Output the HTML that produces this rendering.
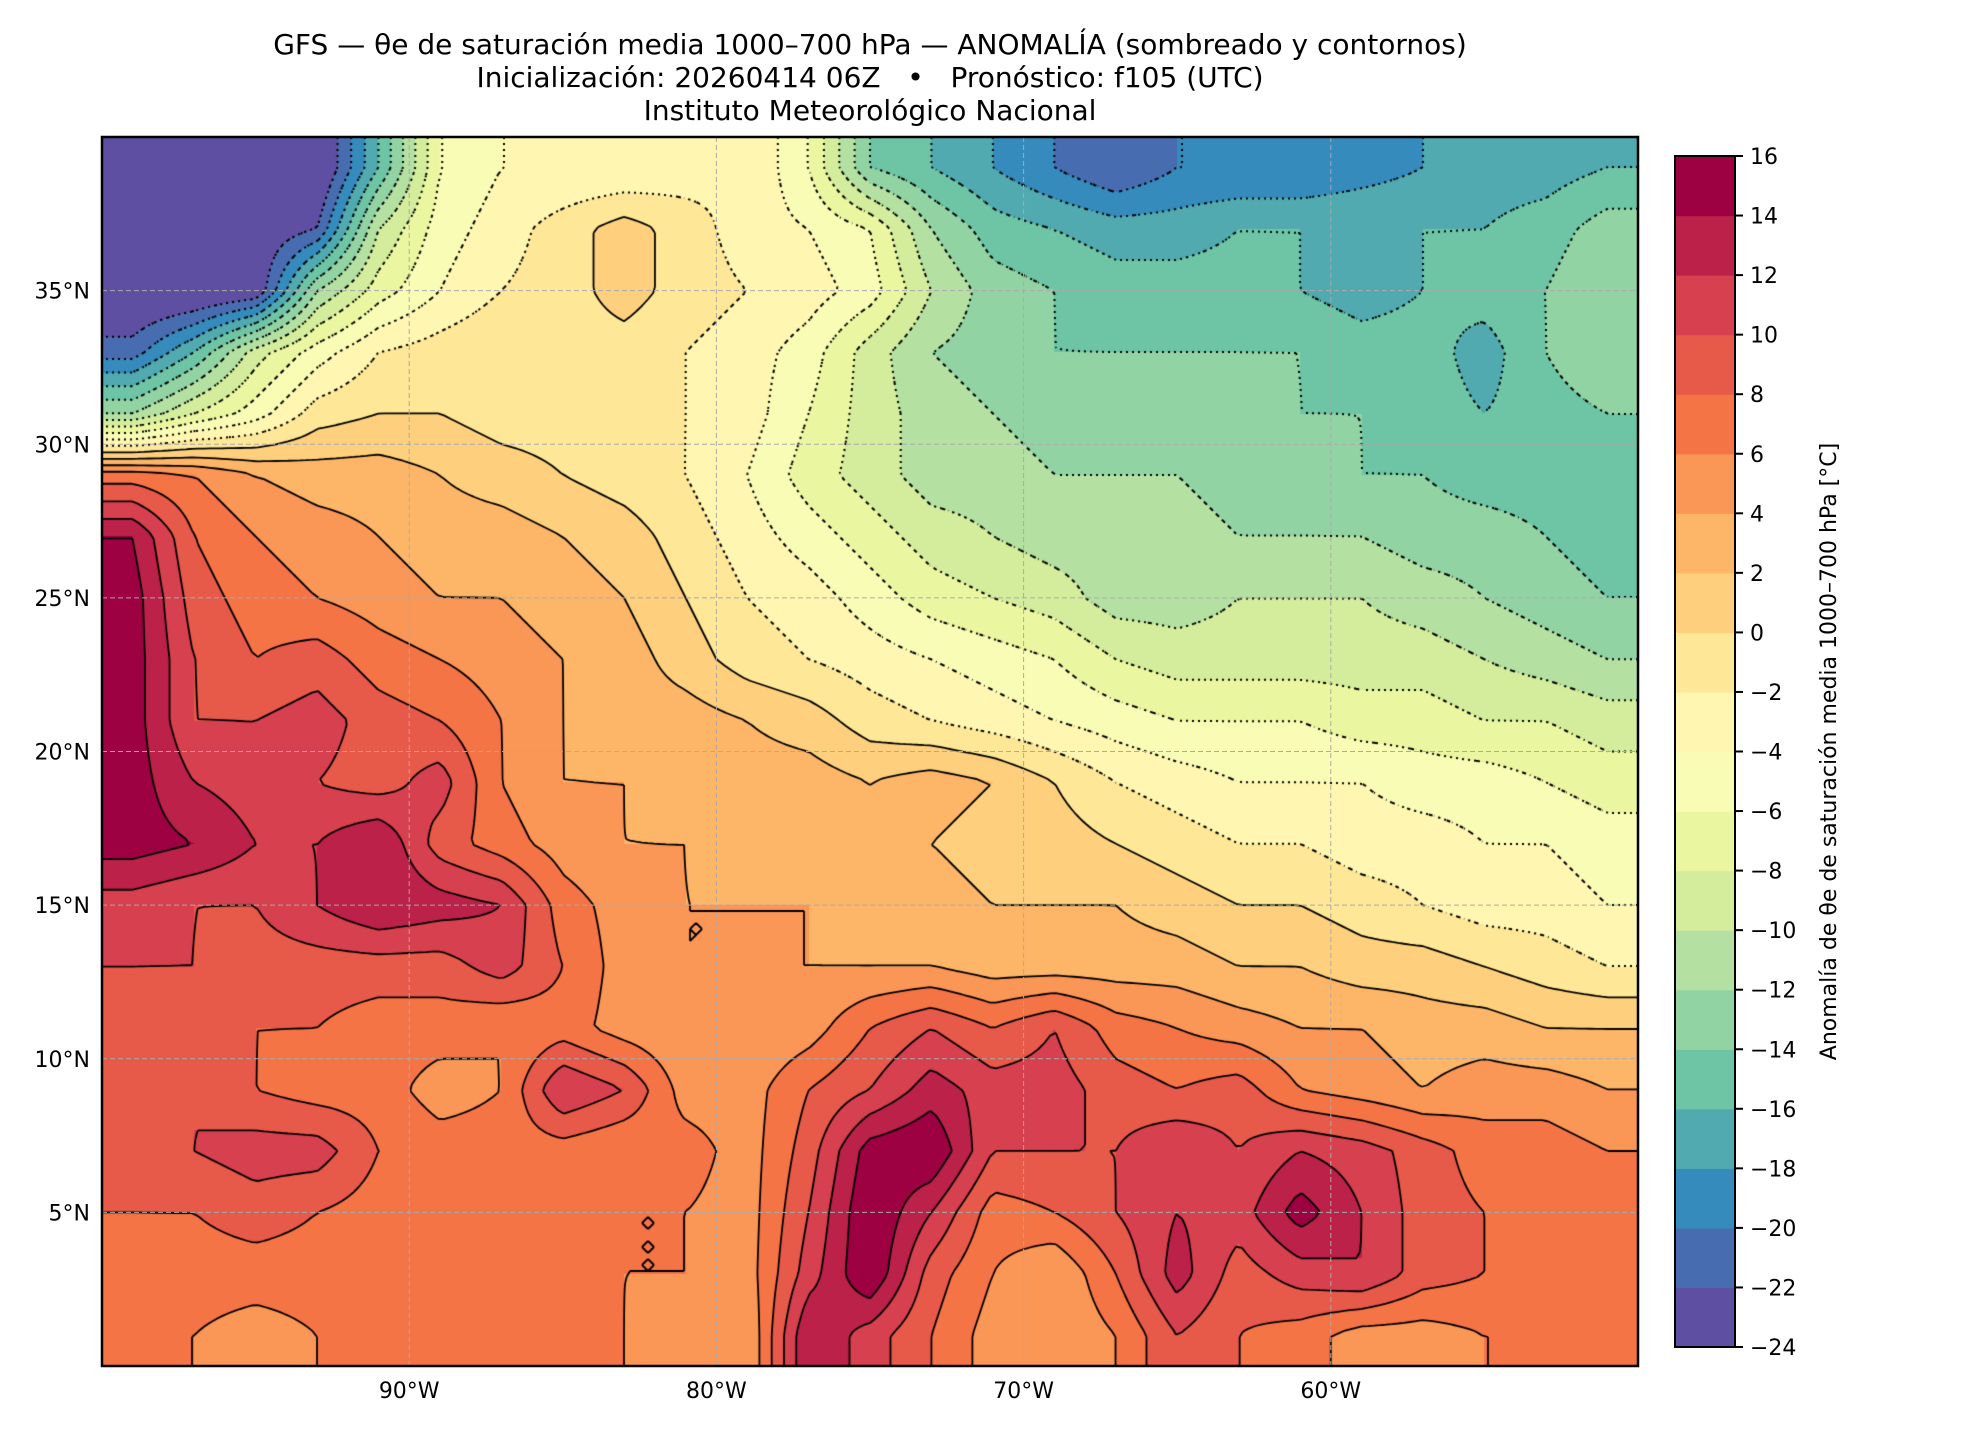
<!DOCTYPE html>
<html><head><meta charset="utf-8"><style>
body{margin:0;background:#fff;width:1980px;height:1440px;position:relative;overflow:hidden;font-family:"DejaVu Sans","Liberation Sans",sans-serif}
#map{position:absolute;left:102px;top:137px}
svg{position:absolute;left:0;top:0;font-family:"DejaVu Sans","Liberation Sans",sans-serif}
</style></head><body>
<canvas id="map" width="1536" height="1229"></canvas>
<svg id="ov" width="1980" height="1440"></svg>
<script>
// grid centers: lon -99..-51 step 2, lat 39..1 step 2
const lons=[-99,-97,-95,-93,-91,-89,-87,-85,-83,-81,-79,-77,-75,-73,-71,-69,-67,-65,-63,-61,-59,-57,-55,-53,-51];
const lats=[39,37,35,33,31,29,27,25,23,21,19,17,15,13,11,9,7,5,3,1];
const anomaly=[
[-25,-25,-25,-25,-16,-6,-4,-4,-4,-3,-2,-6,-14,-16,-18,-20,-22,-20,-20,-20,-19,-18,-17,-17,-16],
[-25,-25,-24,-22,-10,-5,-3,-1,1,-1,-3,-4,-6,-12,-15,-16,-17,-17,-16,-16,-16,-16,-16,-15,-13],
[-25,-25,-24,-12,-7,-4,-2,-1,1,-1,-2,-3,-5,-10,-13,-14,-15,-15,-15,-16,-17,-16,-15,-14,-12],
[-21,-16,-9,-5,-2,-1,0,-1,-1,-2,-3,-5,-9,-12,-13,-14,-14,-14,-14,-14,-15,-15,-17,-14,-12],
[-12,-8,-5,-1,0,0,-1,-1,-1,-2,-3,-6,-9,-11,-12,-13,-13,-13,-13,-14,-14,-15,-16,-15,-14],
[7,6,4,3,3,2,1,0,-1,-2,-4,-7,-9,-11,-11,-12,-12,-12,-13,-13,-14,-14,-15,-15,-15],
[14,8,6,5,4,3,3,2,1,-1,-3,-5,-7,-9,-10,-11,-11,-11,-12,-12,-12,-13,-13,-14,-15],
[15,9,7,6,5,4,4,3,2,0,-2,-3,-5,-7,-8,-9,-11,-11,-10,-10,-10,-11,-12,-13,-14],
[15,10,8,9,7,6,5,4,3,1,-1,-2,-3,-4,-5,-6,-8,-9,-9,-9,-9,-9,-10,-11,-12],
[15,10,10,11,9,8,6,4,3,3,2,1,-1,-2,-3,-4,-5,-6,-6,-6,-7,-7,-8,-8,-9],
[15,12,11,10,9,11,6,4,4,3,3,3,2,3,2,0,-2,-3,-4,-4,-4,-5,-5,-6,-7],
[15,14,12,12,14,9,7,5,4,4,3,3,2,2,1,1,0,-1,-2,-2,-3,-3,-4,-4,-5],
[11,10,10,12,14,13,12,7,5,4,4,4,3,3,2,2,2,1,0,0,-1,-2,-3,-3,-4],
[10,10,9,9,9,9,11,8,5,4,4,4,4,4,3,3,3,3,2,2,1,1,0,-1,-2],
[9,9,8,8,7,7,6,7,5,4,4,5,8,10,8,10,7,6,5,4,4,3,3,2,2],
[9,10,8,7,7,5,6,12,10,5,5,8,10,13,11,11,9,8,9,6,5,4,5,5,4],
[9,10,11,11,8,7,7,7,6,7,5,9,15,16,10,10,10,12,10,12,11,9,7,7,6],
[8,8,9,8,7,7,7,7,6,6,5,10,16,12,7,8,10,12,11,15,12,9,8,7,6],
[7,7,7,7,7,7,6,7,6,6,5,11,16,9,6,4,8,13,9,11,12,9,8,7,7],
[6,6,5,6,7,7,6,6,6,5,4,14,11,8,5,4,6,10,8,7,5,5,6,6,7]];
const levels=[-24,-22,-20,-18,-16,-14,-12,-10,-8,-6,-4,-2,0,2,4,6,8,10,12,14,16];
const cbTicks=[16,14,12,10,8,6,4,2,0,-2,-4,-6,-8,-10,-12,-14,-16,-18,-20,-22,-24];
const latTicks=[35,30,25,20,15,10,5];
const lonTicks=[-90,-80,-70,-60];

const X0=102,Y0=137,W=1536,H=1229;
const xOf=lon=>X0+(lon+100)/50*W, yOf=lat=>Y0+(40-lat)/40*H;
const anchors=["#5e4fa2","#3288bd","#66c2a5","#abdda4","#e6f598","#ffffbf","#fee08b","#fdae61","#f46d43","#d53e4f","#9e0142"];
function hex(h){return[1,3,5].map(i=>parseInt(h.substr(i,2),16))}
const A=anchors.map(hex);
function cmap(t){t=Math.max(0,Math.min(1,t))*10;let i=Math.min(9,Math.floor(t)),f=t-i;return A[i].map((c,k)=>Math.round(c+(A[i+1][k]-c)*f))}
const nL=levels.length-1;
const cols=[];for(let i=0;i<nL;i++)cols.push(cmap(i/(nL-1)));
function field(lon,lat){
  let fx=(lon-lons[0])/2, fy=(lats[0]-lat)/2;
  fx=Math.max(0,Math.min(lons.length-1.0001,fx));fy=Math.max(0,Math.min(lats.length-1.0001,fy));
  const i=Math.floor(fx),j=Math.floor(fy),a=fx-i,b=fy-j;
  return anomaly[j][i]*(1-a)*(1-b)+anomaly[j][i+1]*a*(1-b)+anomaly[j+1][i]*(1-a)*b+anomaly[j+1][i+1]*a*b;
}
function lvlIdx(v){let k=Math.floor((v-levels[0])/2);return Math.max(0,Math.min(nL-1,k))}
const cv=document.getElementById('map'),ctx=cv.getContext('2d');
const img=ctx.createImageData(W,H);
for(let py=0;py<H;py++){const lat=40-(py+0.5)/H*40;for(let px=0;px<W;px++){
  const lon=-100+(px+0.5)/W*50;const c=cols[lvlIdx(field(lon,lat))];const o=(py*W+px)*4;
  img.data[o]=c[0];img.data[o+1]=c[1];img.data[o+2]=c[2];img.data[o+3]=255;}}
ctx.putImageData(img,0,0);
// contours via marching squares
const S=6,nx=Math.ceil(W/S)+1,ny=Math.ceil(H/S)+1,G=[];
for(let j=0;j<ny;j++){G.push([]);for(let i=0;i<nx;i++)G[j].push(field(-100+i*S/W*50,40-j*S/H*40));}
ctx.strokeStyle='#000';
for(let L=-22;L<=14;L+=2){
  ctx.lineWidth=L<0?2:1.8;ctx.setLineDash(L<0?[2,4]:[]);ctx.beginPath();
  for(let j=0;j<ny-1;j++)for(let i=0;i<nx-1;i++){
    const v=[G[j][i],G[j][i+1],G[j+1][i+1],G[j+1][i]];
    const p=[[i,j],[i+1,j],[i+1,j+1],[i,j+1]];const pts=[];
    for(let e=0;e<4;e++){const a=v[e],b=v[(e+1)%4];if((a<L)!==(b<L)){const t=(L-a)/(b-a);const P=p[e],Q=p[(e+1)%4];pts.push([(P[0]+(Q[0]-P[0])*t)*S,(P[1]+(Q[1]-P[1])*t)*S]);}}
    for(let k=0;k+1<pts.length;k+=2){ctx.moveTo(pts[k][0],pts[k][1]);ctx.lineTo(pts[k+1][0],pts[k+1][1]);}
  }
  ctx.stroke();
}
// overlay
const ov=document.getElementById('ov'),NS='http://www.w3.org/2000/svg';
function el(t,a,txt){const e=document.createElementNS(NS,t);for(const k in a)e.setAttribute(k,a[k]);if(txt!==undefined)e.textContent=txt;ov.appendChild(e);return e}
latTicks.forEach(l=>{
  const g=el('line',{x1:X0,x2:X0+W,y1:yOf(l),y2:yOf(l),stroke:'#aaa','stroke-width':1,'stroke-dasharray':'5,3'});
  
  
  const t=el('text',{x:90,y:yOf(l)+8,'text-anchor':'end','font-size':22},l+'°N');
  
  
});
lonTicks.forEach(l=>{
  const g=el('line',{x1:xOf(l),x2:xOf(l),y1:Y0,y2:Y0+H,stroke:'#aaa','stroke-width':1,'stroke-dasharray':'5,3'});
  
  
  const t=el('text',{x:xOf(l),y:1398,'text-anchor':'middle','font-size':22},(-l)+'°W');
  
  
});
const fr=el('rect',{x:X0,y:Y0,width:W,height:H,fill:'none',stroke:'#000','stroke-width':2.5});


// colorbar
const CX=1675,CW=60,CT=156,CB=1347,step=(CB-CT)/nL;
for(let i=0;i<nL;i++){const c=cols[i];
  const r=el('rect',{x:CX,y:CB-(i+1)*step,width:CW,height:step+0.6,fill:`rgb(${c[0]},${c[1]},${c[2]})`});
  
  }
const cf=el('rect',{x:CX,y:CT,width:CW,height:CB-CT,fill:'none',stroke:'#000','stroke-width':2});


cbTicks.forEach(v=>{const y=CB-(v-levels[0])/2*step;
  el('line',{x1:CX+CW,x2:CX+CW+8,y1:y,y2:y,stroke:'#000','stroke-width':2});
  const t=el('text',{x:CX+CW+15,y:y+8,'font-size':22},(v<0?'−':'')+Math.abs(v));
  
  });
const cl=el('text',{x:0,y:0,'font-size':22,'text-anchor':'middle',transform:`translate(1836,${(CT+CB)/2}) rotate(-90)`},'Anomalía de θe de saturación media 1000–700 hPa [°C]');


const titles=['GFS — θe de saturación media 1000–700 hPa — ANOMALÍA (sombreado y contornos)','Inicialización: 20260414 06Z\u00a0\u00a0\u00a0•\u00a0\u00a0\u00a0Pronóstico: f105 (UTC)','Instituto Meteorológico Nacional'];
titles.forEach((s,i)=>{const t=el('text',{x:870,y:54+i*33,'text-anchor':'middle','font-size':28},s);
  
  });
</script>
</body></html>
